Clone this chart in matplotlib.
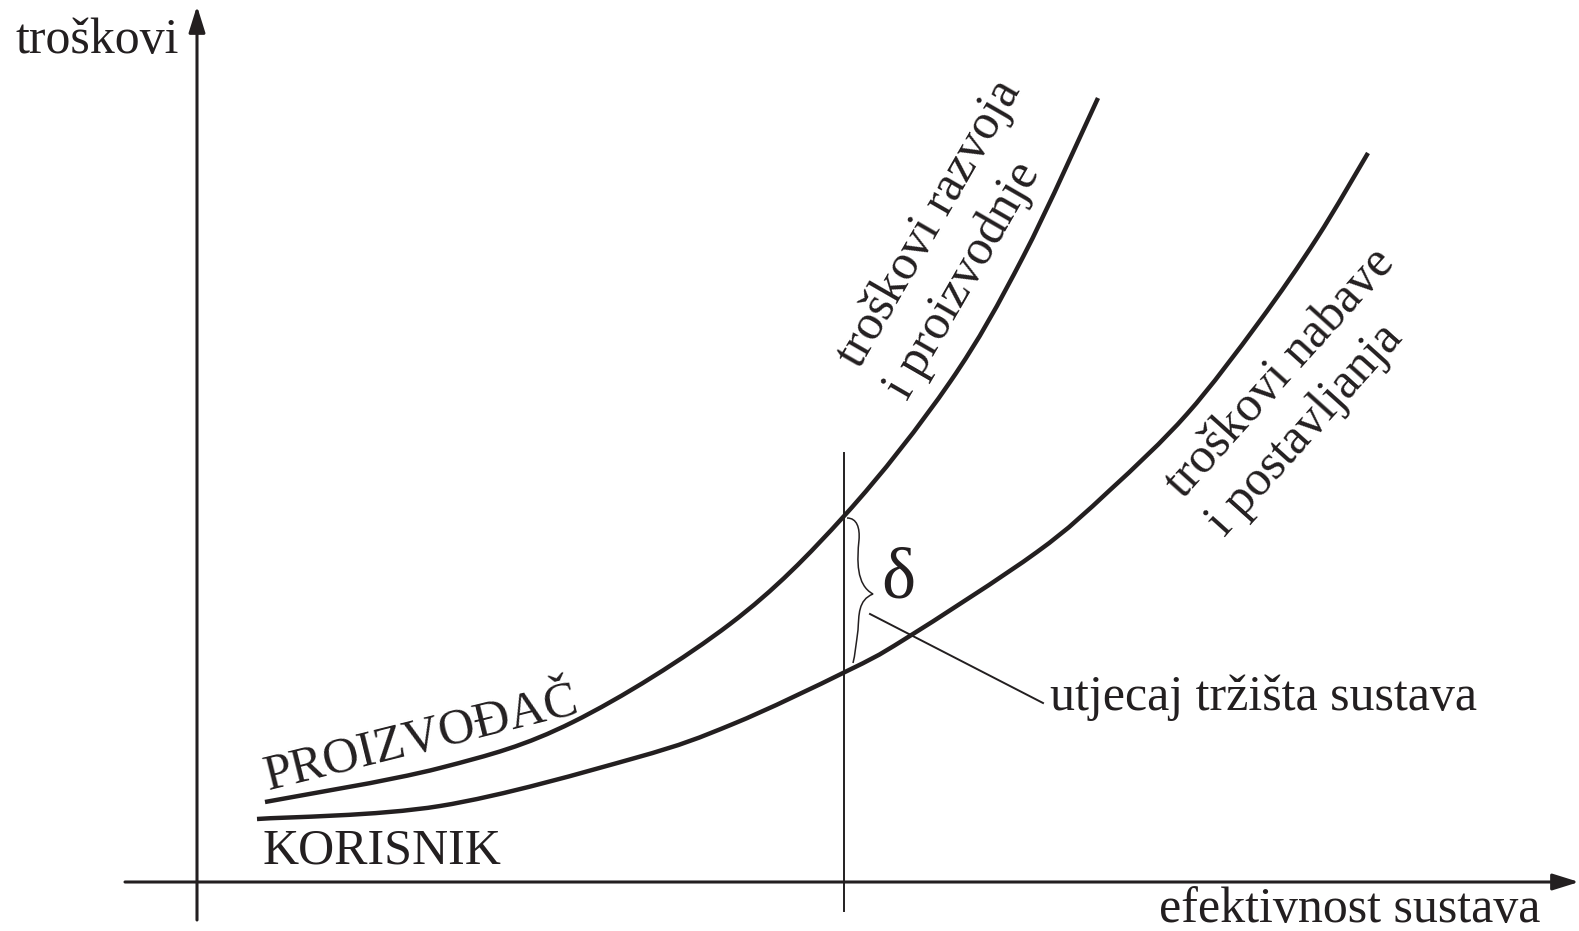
import matplotlib
matplotlib.use("Agg")
import matplotlib.pyplot as plt
from matplotlib.path import Path
from matplotlib.patches import PathPatch

plt.rcParams['font.family'] = ['Liberation Serif', 'DejaVu Serif']

INK = '#231f20'

# ---- data (diagram units, origin at axis crossing) ----
# upper curve: "troškovi razvoja i proizvodnje" (PROIZVOĐAČ)
prod_x = [68, 243, 376, 533, 648, 753, 826, 901]
prod_y = [80, 114, 160, 258, 367, 500, 625, 784]
# lower curve: "troškovi nabave i postavljanja" (KORISNIK)
user_x = [60, 243, 438, 536, 648, 708, 840, 913, 990, 1062, 1120, 1171]
user_y = [63, 76, 124, 158, 210, 243, 330, 392, 468, 560, 644, 729]

# reference position on x axis (vertical marker)
x_mark = 647
mark_y = [-29, 429]
# leader line for "utjecaj tržišta sustava"
leader_x = [673, 846]
leader_y = [268, 179]

# axes extents
x_axis = [-72, 1382]
y_axis = [-38, 876]

labels = {
    'y': 'troškovi',
    'x': 'efektivnost sustava',
    'prod': 'PROIZVOĐAČ',
    'user': 'KORISNIK',
    'market': 'utjecaj tržišta sustava',
    'delta': 'δ',
    'prod_curve': ['troškovi razvoja', 'i proizvodnje'],
    'user_curve': ['troškovi nabave', 'i postavljanja'],
}


def smooth_path(xs, ys):
    """Cubic Bezier path through the given points (Catmull-Rom tangents)."""
    pts = list(zip(xs, ys))
    n = len(pts)
    verts = [pts[0]]
    codes = [Path.MOVETO]
    for i in range(n - 1):
        p0 = pts[i - 1] if i > 0 else pts[i]
        p1 = pts[i]
        p2 = pts[i + 1]
        p3 = pts[i + 2] if i + 2 < n else pts[i + 1]
        c1 = (p1[0] + (p2[0] - p0[0]) / 6.0, p1[1] + (p2[1] - p0[1]) / 6.0)
        c2 = (p2[0] - (p3[0] - p1[0]) / 6.0, p2[1] - (p3[1] - p1[1]) / 6.0)
        verts += [c1, c2, p2]
        codes += [Path.CURVE4] * 3
    return Path(verts, codes)


fig = plt.figure(figsize=(15.79, 9.31), dpi=100)
ax = fig.add_axes([0, 0, 1, 1])
ax.set_xlim(-197, 1382)
ax.set_ylim(-49, 882)
ax.axis('off')

# axes with arrows
for xy, xytext in [((x_axis[1], 0), (x_axis[0], 0)), ((0, y_axis[1]), (0, y_axis[0]))]:
    ax.annotate('', xy=xy, xytext=xytext,
                arrowprops=dict(arrowstyle='-|>,head_length=0.8,head_width=0.25',
                                mutation_scale=20, lw=2.2, color=INK,
                                shrinkA=0, shrinkB=0))

# curves
for xs, ys in [(prod_x, prod_y), (user_x, user_y)]:
    ax.add_patch(PathPatch(smooth_path(xs, ys), fill=False, lw=3.2, ec=INK,
                           capstyle='butt', joinstyle='round'))

# vertical marker and leader
ax.plot([x_mark, x_mark], mark_y, color=INK, lw=1.4)
ax.plot(leader_x, leader_y, color=INK, lw=1.4)

# brace between curves
verts = [(650, 364), (660, 364), (663, 354), (662, 342),
         (660, 322), (659, 297), (676, 288),
         (661, 282), (662, 267), (661, 252),
         (659, 237), (658, 227), (656, 219)]
codes = [Path.MOVETO] + [Path.CURVE4] * 12
ax.add_patch(PathPatch(Path(verts, codes), fill=False, lw=1.1, ec=INK))

fs = 36
ax.text(-182, 829, labels['y'], fontsize=fs, color=INK, ha='left', va='baseline')
ax.text(962, -40, labels['x'], fontsize=fs, color=INK, ha='left', va='baseline')
ax.text(853, 172, labels['market'], fontsize=fs, color=INK, ha='left', va='baseline')
ax.text(66, 19, labels['user'], fontsize=fs, color=INK, ha='left', va='baseline')
ax.text(71, 92, labels['prod'], fontsize=fs, color=INK, ha='left', va='baseline',
        rotation=14, rotation_mode='anchor')
ax.text(701, 302, labels['delta'], fontsize=52, color=INK, ha='center', va='center')

ax.text(733, 658, labels['prod_curve'][0], fontsize=fs, color=INK, ha='center', va='center',
        rotation=60, rotation_mode='anchor')
ax.text(766, 601, labels['prod_curve'][1], fontsize=fs, color=INK, ha='center', va='center',
        rotation=60, rotation_mode='anchor')
ax.text(1083, 509, labels['user_curve'][0], fontsize=fs, color=INK, ha='center', va='center',
        rotation=48, rotation_mode='anchor')
ax.text(1108, 452, labels['user_curve'][1], fontsize=fs, color=INK, ha='center', va='center',
        rotation=48, rotation_mode='anchor')

fig.savefig('out.png', dpi=100, facecolor='white')
